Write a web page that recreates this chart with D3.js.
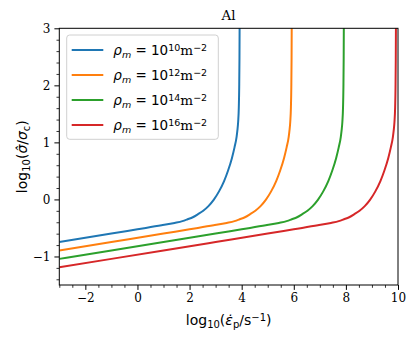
<!DOCTYPE html>
<html>
<head>
<meta charset="utf-8">
<script src="https://d3js.org/d3.v7.min.js"></script>
<style>
  body { margin: 0; background: #fff; }
  svg { display: block; }
  .tick text { font-family: "DejaVu Serif", serif; font-size: 12px; fill: #000; }
  .domain { display: none; }
</style>
</head>
<body>
<svg id="chart" width="415" height="342"></svg>
<script>
const width = 415, height = 342;
const margin = {left: 59.3, top: 28.3, right: 17, bottom: 57};

// series: log10(strain rate) vs log10(stress ratio)
const blueX = [-3, -1, 0, 0.925, 1.425, 1.725, 1.925, 2.125, 2.325, 2.525, 2.725, 2.925, 3.125, 3.325, 3.475, 3.625, 3.725, 3.805, 3.835, 3.865, 3.89, 3.905, 3.915, 3.922];
const blueY = [-0.746, -0.598, -0.523, -0.454, -0.412, -0.381, -0.348, -0.312, -0.258, -0.197, -0.117, -0.008, 0.137, 0.322, 0.503, 0.724, 0.912, 1.098, 1.21, 1.362, 1.614, 1.965, 2.466, 3.166];
const orangeX = [-3, -1, 1, 2, 2.925, 3.425, 3.725, 3.925, 4.125, 4.325, 4.525, 4.725, 4.925, 5.125, 5.325, 5.475, 5.625, 5.725, 5.805, 5.835, 5.865, 5.89, 5.905, 5.915, 5.922];
const orangeY = [-0.894, -0.746, -0.598, -0.523, -0.454, -0.412, -0.381, -0.348, -0.312, -0.258, -0.197, -0.117, -0.008, 0.137, 0.322, 0.503, 0.724, 0.912, 1.098, 1.21, 1.362, 1.614, 1.965, 2.466, 3.166];
const greenX = [-3, -1, 1, 3, 4, 4.925, 5.425, 5.725, 5.925, 6.125, 6.325, 6.525, 6.725, 6.925, 7.125, 7.325, 7.475, 7.625, 7.725, 7.805, 7.835, 7.865, 7.89, 7.905, 7.915, 7.922];
const greenY = [-1.042, -0.894, -0.746, -0.598, -0.523, -0.454, -0.412, -0.381, -0.348, -0.312, -0.258, -0.197, -0.117, -0.008, 0.137, 0.322, 0.503, 0.724, 0.912, 1.098, 1.21, 1.362, 1.614, 1.965, 2.466, 3.166];
const redX = [-3, -1, 1, 3, 5, 6, 6.925, 7.425, 7.725, 7.925, 8.125, 8.325, 8.525, 8.725, 8.925, 9.125, 9.325, 9.475, 9.625, 9.725, 9.805, 9.835, 9.865, 9.89, 9.905, 9.915, 9.922];
const redY = [-1.19, -1.042, -0.894, -0.746, -0.598, -0.523, -0.454, -0.412, -0.381, -0.348, -0.312, -0.258, -0.197, -0.117, -0.008, 0.137, 0.322, 0.503, 0.724, 0.912, 1.098, 1.21, 1.362, 1.614, 1.965, 2.466, 3.166];

const densityExp = ["10", "12", "14", "16"];
const colors = ["#1f77b4", "#ff7f0e", "#2ca02c", "#d62728"];
const xTicks = [-2, 0, 2, 4, 6, 8, 10];
const yTicks = [-1, 0, 1, 2, 3];

const seriesX = [blueX, orangeX, greenX, redX];
const seriesY = [blueY, orangeY, greenY, redY];

const svg = d3.select('#chart');
const x = d3.scaleLinear().domain([-3, 10]).range([margin.left, width - margin.right]);
const y = d3.scaleLinear().domain([-1.5, 3]).range([height - margin.bottom, margin.top]);

const fmt = d => d < 0 ? "\u2212" + Math.abs(d) : String(d);

svg.append("clipPath").attr("id", "clip")
  .append("rect")
  .attr("x", x(-3)).attr("y", y(3))
  .attr("width", x(10) - x(-3)).attr("height", y(-1.5) - y(3));

// minor ticks
const xMinor = d3.range(-3, 10.001, 0.5).filter(v => Math.abs(v % 2) > 1e-6);
const yMinor = d3.range(-1.4, 3.001, 0.2).map(v => +v.toFixed(1)).filter(v => Math.abs(v - Math.round(v)) > 1e-6);

svg.append("g")
  .attr("transform", `translate(0,${y(-1.5)})`)
  .call(d3.axisBottom(x).tickValues(xMinor).tickSize(2.8).tickFormat(""))
  .selectAll("line").attr("stroke", "#000").attr("stroke-width", 0.8);
svg.append("g")
  .attr("transform", `translate(${x(-3)},0)`)
  .call(d3.axisLeft(y).tickValues(yMinor).tickSize(2.8).tickFormat(""))
  .selectAll("line").attr("stroke", "#000").attr("stroke-width", 0.8);

const xAxis = svg.append("g")
  .attr("transform", `translate(0,${y(-1.5)})`)
  .call(d3.axisBottom(x).tickValues(xTicks).tickSize(4.9).tickPadding(3.5).tickFormat(fmt));
xAxis.selectAll("line").attr("stroke", "#000").attr("stroke-width", 1);

const yAxis = svg.append("g")
  .attr("transform", `translate(${x(-3)},0)`)
  .call(d3.axisLeft(y).tickValues(yTicks).tickSize(4.9).tickPadding(4).tickFormat(fmt));
yAxis.selectAll("line").attr("stroke", "#000").attr("stroke-width", 1);

// curves
const line = d3.line()
  .x(d => x(d[0]))
  .y(d => y(d[1]))
  .curve(d3.curveMonotoneX);

const linesG = svg.append("g").attr("clip-path", "url(#clip)");
seriesX.forEach(function (xs, i) {
  const pts = xs.map((v, j) => [v, seriesY[i][j]]);
  linesG.append("path")
    .datum(pts)
    .attr("d", line)
    .attr("fill", "none")
    .attr("stroke", colors[i])
    .attr("stroke-width", 2)
    .attr("stroke-linejoin", "round");
});

// frame
svg.append("rect")
  .attr("x", x(-3)).attr("y", y(3))
  .attr("width", x(10) - x(-3)).attr("height", y(-1.5) - y(3))
  .attr("fill", "none").attr("stroke", "#000").attr("stroke-width", 1);

// title
svg.append("text")
  .attr("x", (x(-3) + x(10)) / 2).attr("y", 19.5)
  .attr("text-anchor", "middle")
  .style("font-family", "DejaVu Serif, serif").style("font-size", "13.5px")
  .text("Al");

// x label
const xl = svg.append("text")
  .attr("x", (x(-3) + x(10)) / 2).attr("y", 325)
  .attr("text-anchor", "middle")
  .style("font-family", "DejaVu Sans, sans-serif").style("font-size", "14px");
xl.append("tspan").text("log");
xl.append("tspan").attr("baseline-shift", "-25%").style("font-size", "10px").text("10");
xl.append("tspan").text("(");
xl.append("tspan").style("font-style", "italic").text("\u03B5\u0307");
xl.append("tspan").attr("baseline-shift", "-25%").style("font-size", "10px").text("p");
xl.append("tspan").text("/s");
xl.append("tspan").attr("baseline-shift", "45%").style("font-size", "10px").text("\u22121");
xl.append("tspan").text(")");

// y label
const yl = svg.append("text")
  .attr("transform", `translate(27,${(y(3) + y(-1.5)) / 2}) rotate(-90)`)
  .attr("text-anchor", "middle")
  .style("font-family", "DejaVu Sans, sans-serif").style("font-size", "14px");
yl.append("tspan").text("log");
yl.append("tspan").attr("baseline-shift", "-25%").style("font-size", "10px").text("10");
yl.append("tspan").text("(");
yl.append("tspan").style("font-style", "italic").text("\u03C3\u0302");
yl.append("tspan").text("/");
yl.append("tspan").style("font-style", "italic").text("\u03C3");
yl.append("tspan").attr("baseline-shift", "-25%").style("font-size", "10px").text("c");
yl.append("tspan").text(")");

// legend
const lg = svg.append("g");
lg.append("rect")
  .attr("x", 66.7).attr("y", 35).attr("width", 151.6).attr("height", 104.3)
  .attr("rx", 3)
  .attr("fill", "#fff").attr("fill-opacity", 0.8)
  .attr("stroke", "#d0d0d0").attr("stroke-width", 1);
densityExp.forEach(function (e, i) {
  const ly = 50 + i * 25;
  lg.append("line")
    .attr("x1", 71.7).attr("x2", 103.3).attr("y1", ly).attr("y2", ly)
    .attr("stroke", colors[i]).attr("stroke-width", 2);
  const t = lg.append("text")
    .attr("x", 113.3).attr("y", ly + 5)
    .style("font-family", "DejaVu Sans, sans-serif").style("font-size", "13.5px");
  t.append("tspan").style("font-style", "italic").text("\u03C1");
  t.append("tspan").attr("baseline-shift", "-25%").style("font-style", "italic").style("font-size", "9.5px").text("m");
  t.append("tspan").text(" = 10");
  t.append("tspan").attr("baseline-shift", "45%").style("font-size", "9.5px").text(e);
  t.append("tspan").style("font-family", "DejaVu Serif, serif").text("m");
  t.append("tspan").attr("baseline-shift", "45%").style("font-size", "9.5px").text("\u22122");
});
</script>
</body>
</html>
